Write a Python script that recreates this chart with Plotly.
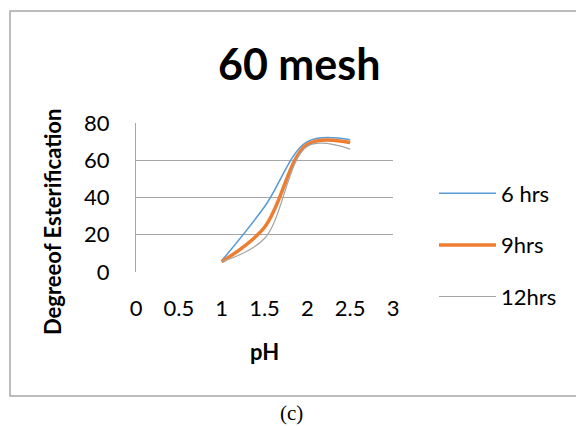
import plotly.graph_objects as go

ph = [1, 1.5, 2, 2.5]
hrs6 = [6, 35, 70, 71]
hrs9 = [5.5, 24, 68.5, 69.5]
hrs12 = [5.5, 18, 67.5, 66]
series_names = ["6 hrs", "9hrs", "12hrs"]
x_ticks = [0, 0.5, 1, 1.5, 2, 2.5, 3]
y_ticks = [0, 20, 40, 60, 80]

W, H = 576, 426
FONT = "Lato"

fig = go.Figure()
styles = [("#5B9BD5", 1.6), ("#ED7D31", 3.5), ("#A5A5A5", 1.2)]
for name, ys, (col, w) in zip(series_names, [hrs6, hrs9, hrs12], styles):
    fig.add_trace(go.Scatter(x=ph, y=ys, mode="lines", name=name,
                             legendgroup=name,
                             line=dict(color=col, width=w, shape="spline", smoothing=1.0)))

def px_x(p):
    return p / W

def px_y(p):
    return 1 - p / H

fig.update_layout(
    width=W, height=H,
    margin=dict(l=0, r=0, t=0, b=0, autoexpand=False),
    paper_bgcolor="white", plot_bgcolor="white",
    font=dict(family=FONT, color="black"),
    showlegend=True,
    legend=dict(x=px_x(434), xanchor="left", y=px_y(245), yanchor="middle",
                font=dict(size=22, family=FONT), tracegroupgap=20,
                itemwidth=57, bgcolor="rgba(0,0,0,0)"),
    xaxis=dict(domain=[px_x(136), px_x(393)], range=[0, 3],
               tickvals=x_ticks, ticktext=[str(v) for v in x_ticks],
               showgrid=False, zeroline=False, showline=False,
               ticks="", ticklabelstandoff=21,
               tickfont=dict(size=22, family=FONT)),
    yaxis=dict(domain=[px_y(272), px_y(123)], range=[0, 80],
               tickvals=y_ticks, showgrid=True, gridcolor="#A6A6A6", gridwidth=1,
               zeroline=False, showline=True, linecolor="#A6A6A6", linewidth=1,
               ticks="", ticklabelstandoff=21,
               tickfont=dict(size=22, family=FONT)),
    shapes=[dict(type="rect", xref="paper", yref="paper",
                 x0=px_x(10), x1=1.02, y0=px_y(396), y1=px_y(11),
                 line=dict(color="#A6A6A6", width=1.5), layer="below")],
    annotations=[
        dict(text="<b>60 mesh</b>", x=px_x(299), y=px_y(64), xref="paper", yref="paper",
             showarrow=False, font=dict(size=43, family=FONT), xanchor="center", yanchor="middle"),
        dict(text="<b>Degreeof Esterification</b>", x=px_x(52), y=px_y(222), xref="paper", yref="paper",
             showarrow=False, textangle=-90, font=dict(size=22, family=FONT),
             xanchor="center", yanchor="middle"),
        dict(text="<b>pH</b>", x=px_x(264), y=px_y(351), xref="paper", yref="paper",
             showarrow=False, font=dict(size=22, family=FONT), xanchor="center", yanchor="middle"),
        dict(text="(c)", x=px_x(291), y=px_y(413), xref="paper", yref="paper",
             showarrow=False, font=dict(size=21, family="Liberation Serif"),
             xanchor="center", yanchor="middle"),
    ],
)

fig.write_html("out.html")
